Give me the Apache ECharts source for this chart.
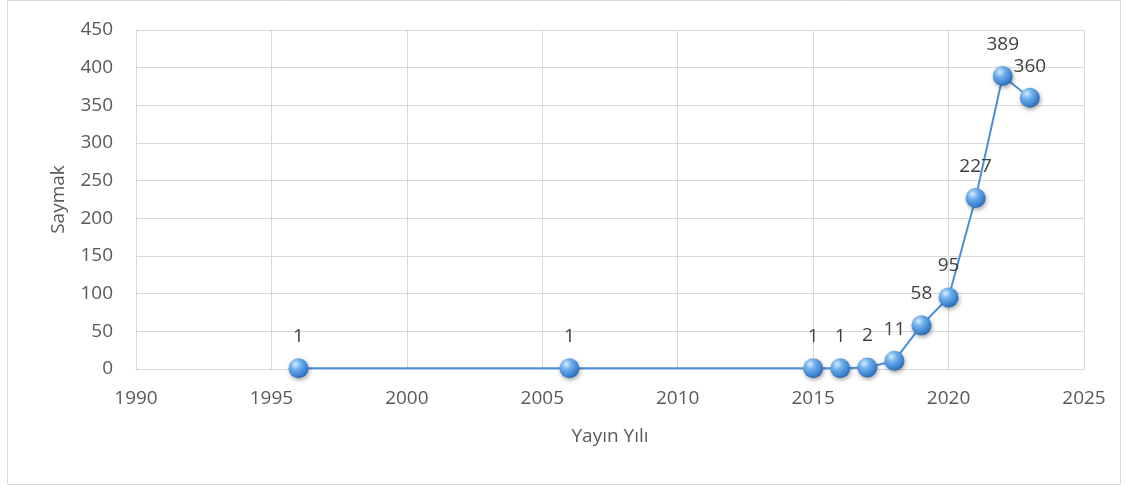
<!DOCTYPE html>
<html><head><meta charset="utf-8">
<script src="https://cdn.jsdelivr.net/npm/echarts@6/dist/echarts.min.js"></script>
<style>html,body{margin:0;padding:0;background:#fff}#c{width:1126px;height:487px}</style>
</head><body><div id="c"></div>
<script>
const years = [1996, 2006, 2015, 2016, 2017, 2018, 2019, 2020, 2021, 2022, 2023];
const counts = [1, 1, 1, 1, 2, 11, 58, 95, 227, 389, 360];
const xTitle = 'Yayın Yılı';
const yTitle = 'Saymak';

const font = 'Open Sans';
const fs = 19;
const chart = echarts.init(document.getElementById('c'));
const sphere = new echarts.graphic.RadialGradient(0.35, 0.3, 0.75, [
  {offset: 0, color: '#d6ecff'},
  {offset: 0.35, color: '#6fb0ee'},
  {offset: 0.8, color: '#3a80cc'},
  {offset: 1, color: '#2a66a8'}
]);
const data = years.map((y, i) => [y, counts[i]]);
chart.setOption({
  animation: false,
  graphic: [{type: 'rect', shape: {x: 7.5, y: 0.5, width: 1113, height: 484}, style: {fill: 'none', stroke: '#d9d9d9', lineWidth: 1}}],
  grid: {left: 136, right: 42, top: 30, bottom: 118},
  xAxis: {
    type: 'value', min: 1990, max: 2025, interval: 5,
    name: xTitle, nameLocation: 'middle', nameGap: 58,
    nameTextStyle: {fontFamily: font, fontSize: fs, color: '#595959'},
    axisLine: {show: true, lineStyle: {color: '#d9d9d9'}},
    axisTick: {show: false},
    axisLabel: {fontFamily: font, fontSize: fs, color: '#595959', margin: 20, formatter: v => String(v)},
    splitLine: {show: true, lineStyle: {color: '#d9d9d9', width: 1}}
  },
  yAxis: {
    type: 'value', min: 0, max: 450, interval: 50,
    name: yTitle, nameLocation: 'middle', nameGap: 68, nameRotate: 90,
    nameTextStyle: {fontFamily: font, fontSize: fs, color: '#595959'},
    axisLine: {show: true, lineStyle: {color: '#d9d9d9'}},
    axisTick: {show: false},
    axisLabel: {fontFamily: font, fontSize: fs, color: '#595959', margin: 23},
    splitLine: {show: true, lineStyle: {color: '#d9d9d9', width: 1}}
  },
  series: [{
    type: 'line', data: data,
    lineStyle: {color: '#4a90d9', width: 2},
    symbol: 'circle', symbolSize: 20,
    itemStyle: {color: sphere, shadowColor: 'rgba(0,0,0,0.35)', shadowBlur: 4, shadowOffsetX: 1, shadowOffsetY: 2},
    label: {show: true, position: 'top', distance: 12, fontFamily: font, fontSize: fs, color: '#404040'}
  }]
});
</script></body></html>
